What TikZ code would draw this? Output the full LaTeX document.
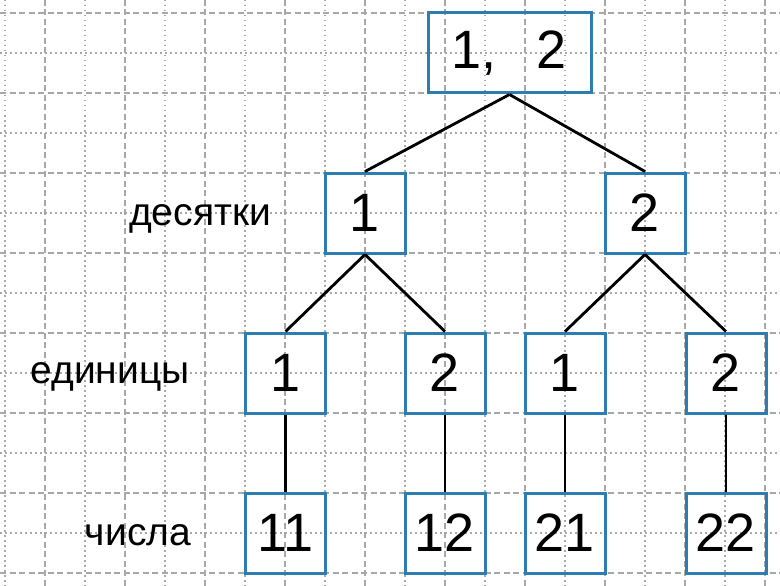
\documentclass[tikz,border=0pt]{standalone}
\usepackage{fontspec}
\setmainfont{Liberation Sans}
\usepackage{xcolor}
\definecolor{boxblue}{HTML}{2D7DB0}
\definecolor{gridgray}{HTML}{A8A8A8}

\begin{document}
\begin{tikzpicture}[
  x=1pt, y=-1pt,
  gridmajor/.style={gridgray, line width=1.1pt, dash pattern=on 6pt off 3.5pt},
  gridminor/.style={gridgray, line width=1.1pt, dash pattern=on 1.5pt off 3.5pt},
  digitbox/.style={rectangle, draw=boxblue, line width=3pt, minimum width=80pt, minimum height=80pt, inner sep=0pt, font=\fontsize{54}{60}\selectfont},
  levellabel/.style={anchor=base, inner sep=0pt, font=\fontsize{39}{45}\selectfont},
  edge/.style={black, line width=2.8pt}
]
\useasboundingbox (0,0) rectangle (780,586);
\fill[white] (0,0) rectangle (780,586);

% Grid
\foreach \x in {5,85,...,725} {
  \draw[gridminor] (\x,0) -- (\x,586);
}
\foreach \x in {45,125,...,765} {
  \draw[gridmajor] (\x,0) -- (\x,586);
}
\foreach \y in {53,133,...,533} {
  \draw[gridminor] (0,\y) -- (780,\y);
}
\foreach \y in {13,93,...,573} {
  \draw[gridmajor] (0,\y) -- (780,\y);
}

% Root
\node[digitbox, minimum width=163pt] (root) at (509.5,53) {1,\hspace{40pt}2\hspace{8pt}};

% Tens
\node[digitbox] (t1) at (365,213) {1};
\node[digitbox] (t2) at (645,213) {2};

% Units
\node[digitbox] (u11) at (285.5,373) {1};
\node[digitbox] (u12) at (445,373) {2};
\node[digitbox] (u21) at (565,373) {1};
\node[digitbox] (u22) at (726,373) {2};

% Numbers
\node[digitbox] (n11) at (285.5,533) {11};
\node[digitbox] (n12) at (445,533) {12};
\node[digitbox] (n21) at (565,533) {21};
\node[digitbox] (n22) at (726,533) {22};

% Row labels
\node[levellabel] (ltens) at (200,225) {десятки};
\node[levellabel] (lunits) at (110,383) {единицы};
\node[levellabel] (lnums) at (138,545) {числа};

% Connectors
\draw[edge] (root.south) -- (t1.north);
\draw[edge] (root.south) -- (t2.north);
\draw[edge] (t1.south) -- (u11.north);
\draw[edge] (t1.south) -- (u12.north);
\draw[edge] (t2.south) -- (u21.north);
\draw[edge] (t2.south) -- (u22.north);
\foreach \a/\b in {u11/n11, u12/n12, u21/n21, u22/n22} {
  \draw[edge] (\a.south) -- (\b.north);
}

\end{tikzpicture}
\end{document}
